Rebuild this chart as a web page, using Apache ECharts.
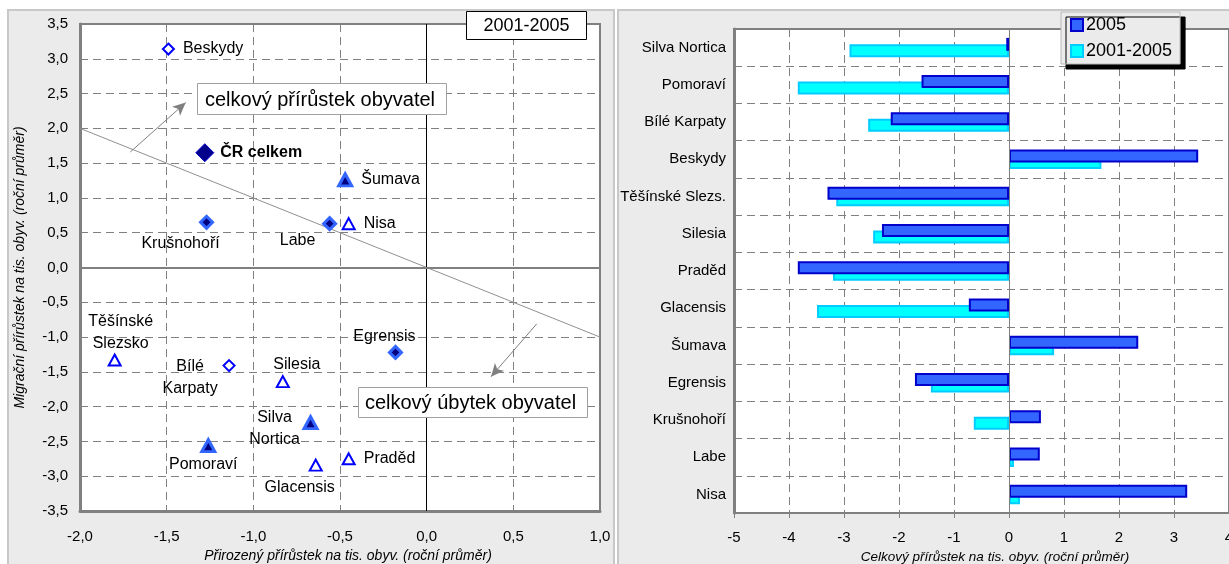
<!DOCTYPE html>
<html>
<head>
<meta charset="utf-8">
<script src="https://cdn.jsdelivr.net/npm/echarts@6/dist/echarts.min.js"></script>
<style>
  html, body { margin: 0; padding: 0; background: #fff; }
  #chart { width: 1229px; height: 564px; }
</style>
</head>
<body>
<div id="chart"></div>
<script>
// --- data: left scatter (2001-2005 averages) ---
var regionNames = ["Beskydy", "Bílé Karpaty", "Těšínské Slezsko", "Silesia", "Praděd", "Glacensis", "Nisa",
  "Krušnohoří", "Labe", "Egrensis", "Šumava", "Silva Nortica", "Pomoraví"];
var naturalGrowth = [-1.49, -1.14, -1.80, -0.83, -0.45, -0.64, -0.45, -1.27, -0.56, -0.18, -0.47, -0.67, -1.26];
var migrationGrowth = [3.14, -1.41, -1.33, -1.64, -2.75, -2.84, 0.63, 0.65, 0.63, -1.22, 1.26, -2.23, -2.56];
var regionGroup = ["SK", "SK", "PL", "PL", "PL", "PL", "PL", "DE", "DE", "DE", "AT", "AT", "AT"];
var crName = "ČR celkem";
var crNatural = -1.28;
var crMigration = 1.65;

// --- data: right bars ---
var barCategories = ["Silva Nortica", "Pomoraví", "Bílé Karpaty", "Beskydy", "Těšínské Slezs.", "Silesia", "Praděd",
  "Glacensis", "Šumava", "Egrensis", "Krušnohoří", "Labe", "Nisa"];
var total2005 = [-0.05, -1.59, -2.15, 3.44, -3.30, -2.31, -3.84, -0.73, 2.35, -1.71, 0.58, 0.56, 3.24];
var total0105 = [-2.90, -3.84, -2.56, 1.68, -3.14, -2.47, -3.20, -3.49, 0.82, -1.42, -0.64, 0.09, 0.20];

var FONT = '"Liberation Sans", Arial, sans-serif';

// label placement for the scatter points (style only)
var labelLayout = {
  "Beskydy": { position: "right", distance: 8 },
  "Šumava": { position: "right", distance: 8 },
  "Nisa": { position: "right", distance: 8 },
  "Praděd": { position: "right", distance: 8 },
  "Krušnohoří": { position: "inside", offset: [-26, 21] },
  "Labe": { position: "inside", offset: [-32, 17] },
  "Těšínské Slezsko": { position: "inside", offset: [6, -27], text: "Těšínské\nSlezsko" },
  "Bílé Karpaty": { position: "inside", offset: [-39, 12], text: "Bílé\nKarpaty" },
  "Silesia": { position: "inside", offset: [14, -17] },
  "Egrensis": { position: "inside", offset: [-11, -16] },
  "Silva Nortica": { position: "inside", offset: [-36, 6], text: "Silva\nNortica" },
  "Pomoraví": { position: "inside", offset: [-5, 19] },
  "Glacensis": { position: "inside", offset: [-16, 23] }
};

var groupStyle = {
  SK: { symbol: "diamond", size: 11, color: "#ffffff", border: "#0000ff", bw: 2 },
  PL: { symbol: "triangle", size: [12, 11], color: "#ffffff", border: "#0000ff", bw: 2 },
  DE: { symbol: "diamond", size: 12, color: "#000080", border: "#3366ff", bw: 3 },
  AT: { symbol: "triangle", size: [13, 12], color: "#000080", border: "#3366ff", bw: 3 }
};

function comma(v) {
  return v.toFixed(1).replace(".", ",");
}

function scatterGroup(g) {
  var st = groupStyle[g];
  var data = [];
  regionNames.forEach(function (n, i) {
    if (regionGroup[i] !== g) return;
    var lay = labelLayout[n];
    var lbl = {
      show: true,
      position: lay.position,
      distance: lay.distance || 0,
      formatter: lay.text || n
    };
    if (lay.position === "inside") {
      lbl.offset = lay.offset;
      lbl.align = "center";
      lbl.verticalAlign = "middle";
    }
    data.push({ name: n, value: [naturalGrowth[i], migrationGrowth[i]], label: lbl });
  });
  return {
    type: "scatter",
    xAxisIndex: 0,
    yAxisIndex: 0,
    symbol: st.symbol,
    symbolSize: st.size,
    itemStyle: { color: st.color, borderColor: st.border, borderWidth: st.bw, opacity: 1 },
    label: { color: "#000", fontSize: 16, fontFamily: FONT, lineHeight: 22 },
    data: data,
    z: 6
  };
}

var chart = echarts.init(document.getElementById("chart"));

var axisNameStyle = { fontStyle: "italic", fontSize: 14, color: "#000", fontFamily: FONT };

var option = {
  animation: false,
  textStyle: { fontFamily: FONT },
  graphic: [
    { type: "rect", z: -10, shape: { x: 8, y: 10, width: 606, height: 560 }, style: { fill: "#ebebeb", stroke: "#c8c8c8", lineWidth: 2 } },
    { type: "rect", z: -10, shape: { x: 618, y: 10, width: 620, height: 560 }, style: { fill: "#ebebeb", stroke: "#c8c8c8", lineWidth: 2 } },
    // period box
    { type: "rect", z: 20, shape: { x: 466.5, y: 11.5, width: 120, height: 28 }, style: { fill: "#fff", stroke: "#000", lineWidth: 1 } },
    { type: "text", z: 21, x: 526.5, y: 26, style: { text: "2001-2005", fill: "#000", font: '18px "Liberation Sans", Arial', align: "center", verticalAlign: "middle" } },
    // annotation boxes
    { type: "rect", z: 20, shape: { x: 197.5, y: 83.5, width: 249, height: 31 }, style: { fill: "#fff", stroke: "#a0a0a0", lineWidth: 1 } },
    { type: "text", z: 21, x: 320, y: 100, style: { text: "celkový přírůstek obyvatel", fill: "#000", font: '20px "Liberation Sans", Arial', align: "center", verticalAlign: "middle" } },
    { type: "rect", z: 20, shape: { x: 358.5, y: 387.5, width: 229, height: 30 }, style: { fill: "#fff", stroke: "#a0a0a0", lineWidth: 1 } },
    { type: "text", z: 21, x: 470.5, y: 403, style: { text: "celkový úbytek obyvatel", fill: "#000", font: '20px "Liberation Sans", Arial', align: "center", verticalAlign: "middle" } }
  ],
  legend: {
    data: ["2005", "2001-2005"],
    orient: "vertical",
    left: 1061,
    top: 12,
    padding: [4, 8, 4, 9],
    itemGap: 8,
    itemWidth: 12,
    itemHeight: 12,
    icon: "rect",
    backgroundColor: "#ebebeb",
    borderColor: "#b8b8b8",
    borderWidth: 1,
    shadowColor: "#000",
    shadowBlur: 0,
    shadowOffsetX: 5,
    shadowOffsetY: 5,
    textStyle: { fontSize: 18, color: "#000", fontFamily: FONT, padding: [0, 0, 0, -2] },
    z: 30
  },
  grid: [
    { left: 80, top: 24, width: 520, height: 487, show: true, backgroundColor: "#fff", borderColor: "#808080", borderWidth: 2, outerBoundsMode: "none" },
    { left: 734, top: 29, width: 495, height: 484, show: true, backgroundColor: "#fff", borderColor: "#808080", borderWidth: 2, outerBoundsMode: "none" }
  ],
  xAxis: [
    {
      type: "value", gridIndex: 0, min: -2, max: 1, interval: 0.5,
      axisLine: { onZero: false, lineStyle: { color: "#808080", width: 3 } },
      axisTick: { show: false },
      axisLabel: { formatter: comma, fontSize: 15, color: "#000", margin: 18 },
      splitLine: { show: true, lineStyle: { color: "#808080", type: [8, 5], width: 1 } },
      name: "Přirozený přírůstek na tis. obyv. (roční průměr)",
      nameLocation: "middle", nameGap: 38,
      nameTextStyle: Object.assign({ padding: [0, 0, 0, 16] }, axisNameStyle)
    },
    {
      type: "value", gridIndex: 1, min: -5, max: 4, interval: 1,
      axisLine: { onZero: false, lineStyle: { color: "#808080", width: 3 } },
      axisTick: { show: true, length: 5, lineStyle: { color: "#808080", width: 1 } },
      axisLabel: { fontSize: 15, color: "#000", margin: 17 },
      splitLine: { show: true, lineStyle: { color: "#808080", type: [8, 5], width: 1 } },
      name: "Celkový přírůstek na tis. obyv. (roční průměr)",
      nameLocation: "middle", nameGap: 36,
      nameTextStyle: Object.assign({ padding: [0, 0, 0, 27] }, axisNameStyle, { fontSize: 13.5 })
    }
  ],
  yAxis: [
    {
      type: "value", gridIndex: 0, min: -3.5, max: 3.5, interval: 0.5,
      axisLine: { onZero: false, lineStyle: { color: "#808080", width: 3 } },
      axisTick: { show: false },
      axisLabel: { formatter: comma, fontSize: 15, color: "#000", margin: 12 },
      splitLine: { show: true, lineStyle: { color: "#808080", type: [8, 5], width: 1 } },
      name: "Migrační přírůstek na tis. obyv. (roční průměr)",
      nameLocation: "middle", nameGap: 53,
      nameTextStyle: axisNameStyle
    },
    {
      type: "category", gridIndex: 1, data: barCategories, inverse: true,
      axisLine: { onZero: false, lineStyle: { color: "#808080", width: 3 } },
      axisTick: { show: false },
      axisLabel: { fontSize: 15, color: "#000", margin: 8 },
      splitLine: { show: true, lineStyle: { color: "#808080", type: [8, 5], width: 1 } }
    }
  ],
  series: [
    {
      type: "line", xAxisIndex: 0, yAxisIndex: 0,
      data: [[-2, 2], [1, -1]],
      symbol: "none", silent: true,
      lineStyle: { color: "#909090", width: 1 },
      z: 3,
      markLine: {
        silent: true,
        symbol: ["none", "none"],
        label: { show: false },
        lineStyle: { type: "solid", color: "#808080", width: 1 },
        data: [
          { xAxis: 0, lineStyle: { color: "#000", width: 1, type: "solid" } },
          { yAxis: 0, lineStyle: { color: "#808080", width: 2, type: "solid" } },
          [{ coord: [-1.71, 1.66], symbol: "none" }, { coord: [-1.39, 2.37], symbol: "arrow", symbolSize: [9, 13] }],
          [{ coord: [0.635, -0.81], symbol: "none" }, { coord: [0.371, -1.57], symbol: "arrow", symbolSize: [9, 13] }]
        ]
      }
    },
    scatterGroup("SK"),
    scatterGroup("PL"),
    scatterGroup("DE"),
    scatterGroup("AT"),
    {
      type: "scatter", xAxisIndex: 0, yAxisIndex: 0,
      symbol: "diamond", symbolSize: 18,
      itemStyle: { color: "#00008b", borderColor: "#0000cc", borderWidth: 1, opacity: 1 },
      label: { show: true, position: "right", distance: 6, formatter: crName, fontSize: 16, fontWeight: "bold", color: "#000" },
      data: [{ name: crName, value: [crNatural, crMigration] }],
      z: 7
    },
    {
      name: "2005", type: "bar", xAxisIndex: 1, yAxisIndex: 1,
      data: total2005, barWidth: 13, barGap: "-50%",
      itemStyle: { color: "#3366ff", borderColor: "#0000cc", borderWidth: 2 },
      z: 4,
      markLine: {
        silent: true, symbol: ["none", "none"], label: { show: false },
        lineStyle: { color: "#808080", width: 1, type: "solid" },
        data: [{ xAxis: 0 }]
      }
    },
    {
      name: "2001-2005", type: "bar", xAxisIndex: 1, yAxisIndex: 1,
      data: total0105, barWidth: 13, barGap: "-50%",
      itemStyle: { color: "#00ffff", borderColor: "#00ccff", borderWidth: 2 },
      z: 3
    }
  ]
};

chart.setOption(option);
</script>
</body>
</html>
